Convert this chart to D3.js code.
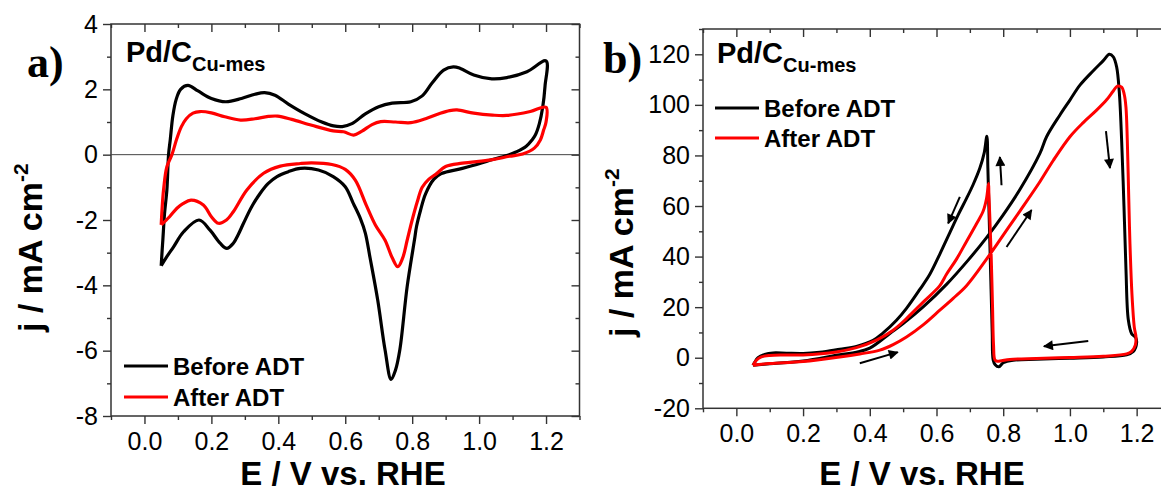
<!DOCTYPE html>
<html>
<head>
<meta charset="utf-8">
<script src="https://cdn.jsdelivr.net/npm/d3@7"></script>
<style>
  html, body { margin: 0; padding: 0; background: #fff; }
  svg { display: block; font-family: "Liberation Sans", Arial, sans-serif; }
</style>
</head>
<body>
<svg id="chart" width="1161" height="495"></svg>
<script>
// ---------- Data: cyclic voltammograms, [E (V vs. RHE), j (mA cm^-2)] ----------

// a) CV in supporting electrolyte, before ADT (anodic sweep then cathodic sweep)
const cvBeforeA = [
  [0.05,-3.4],[0.053,-2.9],[0.055,-2.6],[0.06,-1.8],[0.067,-1.08],[0.072,0.0],[0.077,0.45],[0.085,1.2],
  [0.095,1.7],[0.108,2.0],[0.13,2.12],[0.16,1.95],[0.2,1.72],[0.243,1.62],[0.29,1.72],[0.33,1.85],
  [0.359,1.9],[0.39,1.82],[0.43,1.55],[0.48,1.25],[0.53,1.0],[0.565,0.88],[0.591,0.86],[0.62,0.95],
  [0.66,1.25],[0.7,1.47],[0.74,1.58],[0.796,1.62],[0.83,1.8],[0.86,2.2],[0.894,2.59],[0.923,2.69],
  [0.944,2.64],[0.984,2.44],[1.038,2.32],[1.083,2.36],[1.143,2.54],[1.2,2.87],
  [1.197,2.1],[1.19,1.45],[1.18,0.95],[1.168,0.6],[1.158,0.45],[1.14,0.25],[1.11,0.08],[1.09,0.0],
  [1.04,-0.15],[1.0,-0.28],[0.95,-0.42],[0.887,-0.58],[0.865,-0.75],[0.84,-1.2],[0.825,-1.7],
  [0.813,-2.2],[0.807,-2.6],[0.785,-4.04],[0.763,-5.98],[0.75,-6.6],[0.737,-6.88],[0.719,-5.98],
  [0.697,-4.45],[0.674,-3.15],[0.66,-2.4],[0.645,-1.95],[0.624,-1.49],[0.6,-0.98],[0.564,-0.67],
  [0.52,-0.47],[0.466,-0.42],[0.43,-0.52],[0.396,-0.67],[0.37,-0.88],[0.346,-1.18],[0.32,-1.6],
  [0.296,-2.1],[0.28,-2.45],[0.265,-2.72],[0.246,-2.87],[0.226,-2.71],[0.196,-2.31],[0.163,-2.0],
  [0.117,-2.36],[0.087,-2.82],[0.065,-3.15],[0.05,-3.4]
];

// a) CV after ADT
const cvAfterA = [
  [0.05,-2.15],[0.053,-1.6],[0.057,-1.08],[0.067,-0.37],[0.082,0.0],[0.097,0.5],[0.11,0.85],
  [0.125,1.1],[0.145,1.27],[0.166,1.32],[0.2,1.28],[0.24,1.16],[0.287,1.06],[0.33,1.1],[0.37,1.17],
  [0.398,1.18],[0.44,1.08],[0.5,0.9],[0.564,0.73],[0.595,0.7],[0.625,0.6],[0.65,0.72],[0.68,0.92],
  [0.706,1.01],[0.75,1.0],[0.796,0.98],[0.84,1.1],[0.884,1.27],[0.912,1.35],[0.934,1.37],
  [0.984,1.27],[1.04,1.21],[1.083,1.2],[1.153,1.32],[1.2,1.45],
  [1.2,1.0],[1.193,0.76],[1.183,0.45],[1.165,0.2],[1.13,0.02],[1.09,-0.05],[1.036,-0.16],
  [0.95,-0.26],[0.9,-0.36],[0.873,-0.58],[0.85,-0.75],[0.83,-1.0],[0.815,-1.45],[0.8,-2.0],
  [0.785,-2.62],[0.772,-3.15],[0.757,-3.43],[0.74,-3.15],[0.719,-2.62],[0.69,-2.15],[0.663,-1.55],
  [0.63,-0.78],[0.6,-0.45],[0.56,-0.3],[0.5,-0.25],[0.466,-0.27],[0.406,-0.35],[0.356,-0.57],
  [0.306,-1.08],[0.266,-1.74],[0.245,-2.0],[0.221,-2.1],[0.2,-1.9],[0.176,-1.54],[0.139,-1.39],
  [0.115,-1.5],[0.097,-1.64],[0.075,-1.9],[0.05,-2.15]
];

// b) CV for fuel oxidation, before ADT (forward sweep then backward sweep)
const cvBeforeB = [
  [0.05,-3.0],[0.1,-2.4],[0.2,-1.3],[0.31,1.2],[0.36,2.2],[0.4,3.8],[0.46,9.6],[0.5,13.5],
  [0.56,20.1],[0.63,29],[0.695,38.6],[0.75,47.5],[0.8,56.5],[0.85,66.5],[0.91,80.8],[0.93,87.4],
  [0.97,96],[1.0,101.9],[1.03,107.8],[1.07,113.5],[1.1,117.5],[1.118,120],[1.13,119],[1.14,115],
  [1.148,105],[1.155,86],[1.162,60],[1.168,35],[1.175,15],[1.185,9.5],[1.197,8],
  [1.2,6],[1.19,2.5],[1.17,1.2],[1.1,0.3],[1.0,-0.2],[0.9,-0.6],[0.83,-1.0],[0.8,-2.0],
  [0.787,-3.6],[0.776,-2.8],[0.77,-1.0],[0.767,10],[0.763,30],[0.758,55],[0.754,75],[0.751,87.6],
  [0.743,81],[0.73,75],[0.71,68.5],[0.69,63],[0.665,56.5],[0.64,49.5],[0.61,41],[0.58,33],
  [0.55,27],[0.51,19.5],[0.48,14.8],[0.44,9.8],[0.41,6.9],[0.36,4.5],[0.31,3.4],[0.25,2.2],
  [0.2,1.7],[0.15,1.8],[0.11,1.9],[0.085,1.3],[0.065,0],[0.05,-3.0]
];

// b) CV for fuel oxidation, after ADT
const cvAfterB = [
  [0.05,-3.0],[0.1,-2.3],[0.2,-1.5],[0.31,0.3],[0.37,1.5],[0.43,3.0],[0.47,5.2],[0.51,8.2],
  [0.56,13],[0.61,18.8],[0.65,23.5],[0.69,28.5],[0.75,39],[0.8,48.5],[0.85,58],[0.91,69.6],
  [0.95,78],[1.0,87.4],[1.04,93],[1.08,97.9],[1.11,102],[1.13,105.5],[1.142,107.4],[1.155,107],
  [1.163,104],[1.168,99],[1.172,86],[1.176,65],[1.18,45],[1.186,25],[1.193,12],[1.198,8.2],
  [1.196,5],[1.185,2.5],[1.17,1.5],[1.1,0.6],[1.0,0.1],[0.9,-0.3],[0.82,-0.7],[0.795,-1.2],
  [0.782,-1.4],[0.775,-0.8],[0.771,5],[0.768,20],[0.764,40],[0.76,55],[0.757,65],[0.756,68.9],
  [0.75,63],[0.74,58],[0.72,53],[0.69,46],[0.66,39],[0.63,33],[0.61,28.5],[0.56,22],[0.51,15.5],
  [0.47,10.9],[0.42,7],[0.36,4],[0.3,2.3],[0.2,1.1],[0.14,1.1],[0.1,0.9],[0.075,0.3],[0.06,-1],
  [0.05,-3.0]
];

// Sweep-direction arrows in panel b: [E start, j start, E end, j end]
const arrowsB = [
  [0.37,-2.2,0.484,2.2],
  [0.67,63.6,0.635,53.1],
  [0.795,68.2,0.79,79.4],
  [0.81,43.8,0.885,58.4],
  [1.108,89.6,1.12,75],
  [1.055,6.6,0.922,4.5]
];

// Axis ticks
const xTicks = [0, 0.2, 0.4, 0.6, 0.8, 1.0, 1.2];
const xMinor = [-0.1, 0.1, 0.3, 0.5, 0.7, 0.9, 1.1, 1.3];
const yTicksA = [-8, -6, -4, -2, 0, 2, 4];
const yMinorA = [-7, -5, -3, -1, 1, 3];
const yTicksB = [-20, 0, 20, 40, 60, 80, 100, 120];
const yMinorB = [-10, 10, 30, 50, 70, 90, 110, 130];

// Series labels and colours
const seriesNames = ["Before ADT", "After ADT"];
const seriesColors = ["#000000", "#ff0000"];

// ---------- Drawing ----------
const sans = "'Liberation Sans', Arial, sans-serif";
const serif = "'Liberation Serif', 'Times New Roman', serif";
const svg = d3.select("#chart");
svg.append("rect").attr("width", 1161).attr("height", 495).attr("fill", "#fff");

svg.append("defs").append("marker")
  .attr("id", "head")
  .attr("viewBox", "0 0 10 10")
  .attr("refX", 9).attr("refY", 5)
  .attr("markerWidth", 5.5).attr("markerHeight", 5)
  .attr("markerUnits", "strokeWidth")
  .attr("orient", "auto")
  .append("path").attr("d", "M0,0 L10,5 L0,10 Z").attr("fill", "#000");

const axisColor = "#333";
const fmtY = d => String(d);
const fmtX = d3.format(".1f");

function drawPanel(p) {
  const x = d3.scaleLinear().domain([-0.1, 1.3]).range(p.xRange);
  const y = d3.scaleLinear().domain(p.yDomain).range(p.yRange);
  const g = svg.append("g");

  const clipId = "clip-" + p.id;
  g.append("clipPath").attr("id", clipId).append("rect")
    .attr("x", p.xRange[0]).attr("y", p.yRange[1])
    .attr("width", p.xRange[1] - p.xRange[0]).attr("height", p.yRange[0] - p.yRange[1]);

  const styleAxis = sel => {
    sel.select(".domain").remove();
    sel.selectAll(".tick line").attr("stroke", axisColor).attr("stroke-width", 1.4);
    sel.selectAll(".tick text").attr("fill", "#000")
      .style("font-size", "25px").style("font-family", sans);
  };

  // bottom (outward, labelled)
  g.append("g").attr("transform", `translate(0,${p.yRange[0]})`)
    .call(d3.axisBottom(x).tickValues(xTicks).tickFormat(fmtX).tickSize(8).tickPadding(8))
    .call(styleAxis);
  g.append("g").attr("transform", `translate(0,${p.yRange[0]})`)
    .call(d3.axisBottom(x).tickValues(xMinor).tickFormat("").tickSize(4))
    .call(styleAxis);
  // top (inward)
  g.append("g").attr("transform", `translate(0,${p.yRange[1]})`)
    .call(d3.axisTop(x).tickValues(xTicks).tickFormat("").tickSize(-8))
    .call(styleAxis);
  g.append("g").attr("transform", `translate(0,${p.yRange[1]})`)
    .call(d3.axisTop(x).tickValues(xMinor).tickFormat("").tickSize(-4))
    .call(styleAxis);
  // left (outward, labelled)
  g.append("g").attr("transform", `translate(${p.xRange[0]},0)`)
    .call(d3.axisLeft(y).tickValues(p.yTicks).tickFormat(fmtY).tickSize(8).tickPadding(5))
    .call(styleAxis);
  g.append("g").attr("transform", `translate(${p.xRange[0]},0)`)
    .call(d3.axisLeft(y).tickValues(p.yMinor).tickFormat("").tickSize(4))
    .call(styleAxis);
  // right (inward)
  g.append("g").attr("transform", `translate(${p.xRange[1]},0)`)
    .call(d3.axisRight(y).tickValues(p.yTicks).tickFormat("").tickSize(-8))
    .call(styleAxis);
  g.append("g").attr("transform", `translate(${p.xRange[1]},0)`)
    .call(d3.axisRight(y).tickValues(p.yMinor).tickFormat("").tickSize(-4))
    .call(styleAxis);

  // frame
  g.append("rect")
    .attr("x", p.xRange[0]).attr("y", p.yRange[1])
    .attr("width", p.xRange[1] - p.xRange[0]).attr("height", p.yRange[0] - p.yRange[1])
    .attr("fill", "none").attr("stroke", axisColor).attr("stroke-width", 1.5);

  if (p.zeroLine) {
    g.append("line")
      .attr("x1", p.xRange[0]).attr("x2", p.xRange[1])
      .attr("y1", y(0)).attr("y2", y(0))
      .attr("stroke", "#444").attr("stroke-width", 1);
  }

  // curves
  const line = d3.line().x(d => x(d[0])).y(d => y(d[1]))
    .curve(d3.curveCatmullRom.alpha(0.5));
  const plot = g.append("g").attr("clip-path", `url(#${clipId})`);
  p.series.forEach((s, i) => {
    plot.append("path").datum(s)
      .attr("d", line)
      .attr("fill", "none")
      .attr("stroke", seriesColors[i])
      .attr("stroke-width", p.lineWidth)
      .attr("stroke-linejoin", "round");
  });

  // arrows
  (p.arrows || []).forEach(a => {
    g.append("line")
      .attr("x1", x(a[0])).attr("y1", y(a[1]))
      .attr("x2", x(a[2])).attr("y2", y(a[3]))
      .attr("stroke", "#000").attr("stroke-width", 2)
      .attr("marker-end", "url(#head)");
  });

  // legend
  seriesNames.forEach((name, i) => {
    const ly = p.legend.y + i * p.legend.dy;
    g.append("line")
      .attr("x1", p.legend.x).attr("x2", p.legend.x + 44)
      .attr("y1", ly).attr("y2", ly)
      .attr("stroke", seriesColors[i]).attr("stroke-width", 3.2);
    g.append("text")
      .attr("x", p.legend.x + 49).attr("y", ly + 8.5)
      .style("font-family", sans).style("font-size", "24px").style("font-weight", "bold")
      .attr("fill", "#000")
      .text(name);
  });

  // panel letter
  g.append("text")
    .attr("x", p.letter.x).attr("y", p.letter.y)
    .style("font-family", serif).style("font-size", "44px").style("font-weight", "bold")
    .text(p.letter.text);

  // sample title Pd/C with subscript
  const t = g.append("text")
    .attr("x", p.title.x).attr("y", p.title.y)
    .style("font-family", sans).style("font-weight", "bold").style("font-size", "29px");
  t.append("tspan").text("Pd/C");
  t.append("tspan").style("font-size", "20px").attr("dy", 9).text("Cu-mes");

  // axis titles
  g.append("text")
    .attr("x", p.xTitleX).attr("y", 485)
    .attr("text-anchor", "middle")
    .style("font-family", sans).style("font-weight", "bold").style("font-size", "33px")
    .text("E / V vs. RHE");

  const yt = g.append("text")
    .attr("transform", `translate(${p.yTitle.x},${p.yTitle.y}) rotate(-90)`)
    .style("font-family", sans).style("font-weight", "bold").style("font-size", "34px");
  yt.append("tspan").text("j / mA cm");
  yt.append("tspan").style("font-size", "21px").attr("dy", -14).text("-2");
}

drawPanel({
  id: "a",
  xRange: [111, 579.5], yRange: [416, 24],
  yDomain: [-8, 4], yTicks: yTicksA, yMinor: yMinorA,
  series: [cvBeforeA, cvAfterA], lineWidth: 3.2, zeroLine: true,
  legend: { x: 124, y: 366, dy: 31 },
  letter: { x: 27, y: 77, text: "a)" },
  title: { x: 126, y: 62 },
  xTitleX: 343,
  yTitle: { x: 42, y: 332 }
});

drawPanel({
  id: "b",
  xRange: [703, 1170], yRange: [408.3, 29],
  yDomain: [-20, 130], yTicks: yTicksB, yMinor: yMinorB,
  series: [cvBeforeB, cvAfterB], lineWidth: 3, zeroLine: false,
  arrows: arrowsB,
  legend: { x: 715, y: 108, dy: 30 },
  letter: { x: 603, y: 73, text: "b)" },
  title: { x: 717, y: 63 },
  xTitleX: 922,
  yTitle: { x: 633, y: 337 }
});
</script>
</body>
</html>
